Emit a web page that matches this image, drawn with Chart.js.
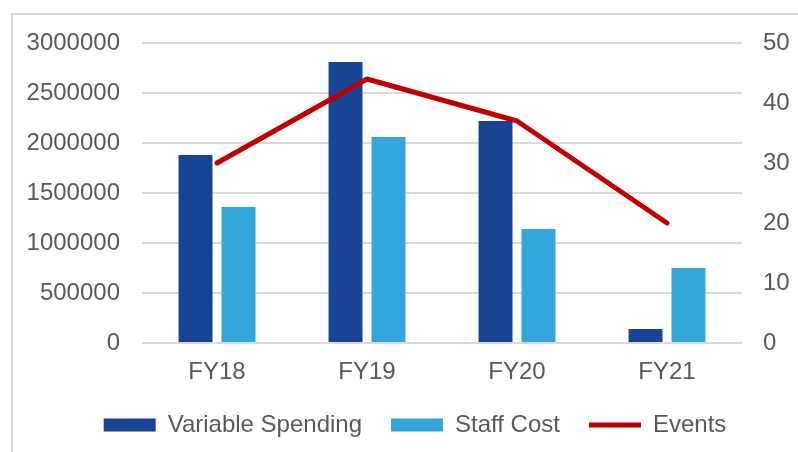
<!DOCTYPE html>
<html>
<head>
<meta charset="utf-8">
<script src="https://cdn.jsdelivr.net/npm/chart.js@4/dist/chart.umd.min.js"></script>
<style>
  html, body { margin: 0; padding: 0; background: #fff; overflow: hidden; }
  #wrap { position: relative; width: 798px; height: 452px; }
  #frame { position: absolute; left: 11px; top: 13px; width: 900px; height: 600px; border: 2px solid #d9d9d9; box-sizing: border-box; }
  #chart { position: absolute; left: 0; top: 0; }
</style>
</head>
<body>
<div id="wrap">
  <div id="frame"></div>
  <canvas id="chart" width="798" height="452"></canvas>
</div>
<script>
const years = ['FY18', 'FY19', 'FY20', 'FY21'];
const variableSpending = [1880000, 2810000, 2220000, 140000];
const staffCost = [1360000, 2060000, 1140000, 750000];
const events = [30, 44, 37, 20];

const textColor = '#595959';
const font = { family: 'Liberation Sans, Arial, sans-serif', size: 24 };

const ctx = document.getElementById('chart').getContext('2d');
const chart = new Chart(ctx, {
    type: 'bar',
    data: {
        labels: years,
        datasets: [{
            type: 'line',
            label: 'Events',
            data: events,
            yAxisID: 'y1',
            borderColor: '#c00000',
            backgroundColor: '#c00000',
            borderWidth: 5,
            borderCapStyle: 'round',
            borderJoinStyle: 'round',
            pointRadius: 0,
            pointStyle: 'line',
            tension: 0,
            order: 0
        }, {
            label: 'Variable Spending',
            data: variableSpending,
            backgroundColor: '#184496',
            borderWidth: 0,
            pointStyle: 'rect',
            yAxisID: 'y',
            order: 1
        }, {
            label: 'Staff Cost',
            data: staffCost,
            backgroundColor: '#33a7dc',
            borderWidth: 0,
            pointStyle: 'rect',
            yAxisID: 'y',
            order: 2
        }]
    },
    options: {
        responsive: false,
        animation: false,
        categoryPercentage: 0.573,
        barPercentage: 0.79,
        // negative right padding shifts the centred legend to the right
        layout: { padding: { top: 43, bottom: 5, left: 0, right: -32 } },
        plugins: {
            legend: {
                display: true,
                position: 'bottom',
                labels: {
                    color: textColor,
                    font: font,
                    usePointStyle: true,
                    pointStyleWidth: 52,
                    boxHeight: 13,
                    padding: 29,
                    sort: (a, b) => {
                        const order = { 'Variable Spending': 0, 'Staff Cost': 1, 'Events': 2 };
                        return order[a.text] - order[b.text];
                    }
                }
            },
            tooltip: { enabled: false }
        },
        scales: {
            x: {
                grid: { display: false, drawTicks: false },
                border: { display: false },
                ticks: { color: textColor, font: { family: font.family, size: 24, lineHeight: 1 }, padding: 17 },
                afterFit: function(scale) { scale.height = 41; }
            },
            y: {
                position: 'left',
                min: 0,
                max: 3000000,
                grid: { color: '#d9d9d9', lineWidth: 2, drawTicks: false },
                border: { display: false },
                ticks: {
                    stepSize: 500000,
                    color: textColor,
                    font: font,
                    padding: 22,
                    callback: function(value) {
                        return String(value); // no thousands separators
                    }
                },
                afterFit: function(scale) { scale.width = 142; }
            },
            y1: {
                position: 'right',
                min: 0,
                max: 50,
                grid: { display: false, drawTicks: false },
                border: { display: false },
                ticks: { stepSize: 10, color: textColor, font: font, padding: 21 },
                afterFit: function(scale) { scale.width = 88; }
            }
        }
    }
});
</script>
</body>
</html>
